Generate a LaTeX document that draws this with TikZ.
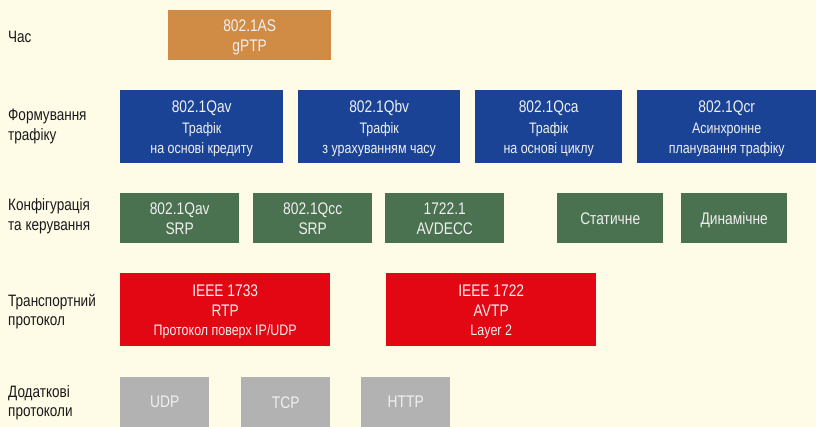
\documentclass[tikz,border=0pt]{standalone}
\usepackage{fontspec}
\setmainfont[FakeStretch=0.82]{Liberation Sans}
\definecolor{bgcream}{HTML}{FEFBE6}
\definecolor{clockorange}{HTML}{D08C44}
\definecolor{shapeblue}{HTML}{1A4396}
\definecolor{confgreen}{HTML}{4A7150}
\definecolor{transred}{HTML}{E30613}
\definecolor{protogray}{HTML}{B2B2B2}
\definecolor{boxtext}{HTML}{F0F0F0}
\definecolor{labeltext}{HTML}{1A1A1A}
\newcommand\titlesz{\fontsize{16.8}{20}\selectfont}
\newcommand\subsz{\fontsize{15.2}{19}\selectfont}
\newcommand\labelsz{\fontsize{16.5}{19.5}\selectfont}
\tikzset{
  blk/.style={inner sep=0pt, draw=none, anchor=north west},
  blktext/.style={inner sep=0pt, text=boxtext, align=center, text depth=0pt,
    font=\titlesz},
  lbl/.style={inner sep=0pt, text=labeltext, align=left, text depth=0pt,
    anchor=west, font=\labelsz},
}
% a filled box given by its corners (x1,y1) and (x2,y2), y grows downward,
% with its centred text as a second node
\newcommand\areabox[7]{%
  \node[blk, fill=#2, minimum width=#5pt-#3pt, minimum height=#6pt-#4pt]
    (#1) at (#3,#4) {};
  \node[blktext] (#1-txt) at (#1.center) {#7};}
\begin{document}
\begin{tikzpicture}[x=1pt,y=-1pt]
\fill[bgcream] (0,0) rectangle (816,427);
\useasboundingbox (0,0) rectangle (816,427);

% row labels
\node[lbl] (l-time)  at (8,37)    {Час};
\node[lbl] (l-shape) at (8,125)   {Формування\\трафіку};
\node[lbl] (l-conf)  at (8,214.5) {Конфігурація\\та керування};
\node[lbl] (l-trans) at (8,310)   {Транспортний\\протокол};
\node[lbl] (l-extra) at (8,401)   {Додаткові\\протоколи};

% time
\areabox{gptp}{clockorange}{168}{10}{331}{60}{802.1AS\\gPTP}

% traffic shaping
\areabox{qav}{shapeblue}{120}{90}{283}{163}{802.1Qav\\[1pt]{\subsz Трафік}\\{\subsz на основі кредиту}}
\areabox{qbv}{shapeblue}{298}{90}{460}{163}{802.1Qbv\\[1pt]{\subsz Трафік}\\{\subsz з урахуванням часу}}
\areabox{qca}{shapeblue}{475}{90}{622}{163}{802.1Qca\\[1pt]{\subsz Трафік}\\{\subsz на основі циклу}}
\areabox{qcr}{shapeblue}{637}{90}{816}{163}{802.1Qcr\\[1pt]{\subsz Асинхронне}\\{\subsz планування трафіку}}

% configuration and management
\areabox{srp1}{confgreen}{120}{193}{239}{243}{802.1Qav\\SRP}
\areabox{srp2}{confgreen}{253}{193}{372}{243}{802.1Qcc\\SRP}
\areabox{avdecc}{confgreen}{385}{193}{504}{243}{1722.1\\AVDECC}
\areabox{static}{confgreen}{557}{193}{663}{243}{Статичне}
\areabox{dynamic}{confgreen}{681}{193}{787}{243}{Динамічне}

% transport protocol
\areabox{rtp}{transred}{120}{273}{330}{346}{IEEE 1733\\RTP\\[-1pt]{\subsz Протокол поверх IP/UDP}}
\areabox{avtp}{transred}{386}{273}{596}{346}{IEEE 1722\\AVTP\\[-1pt]{\subsz Layer 2}}

% additional protocols
\areabox{udp}{protogray}{120}{377}{209}{427}{UDP}
\areabox{tcp}{protogray}{241}{377}{330}{427}{TCP}
\areabox{http}{protogray}{361}{377}{450}{427}{HTTP}
\end{tikzpicture}
\end{document}
